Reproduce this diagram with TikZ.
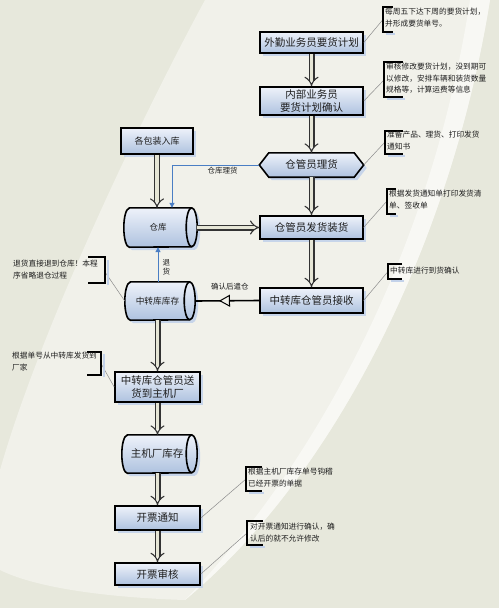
\documentclass[tikz,border=0pt]{standalone}
\usepackage{fontspec}
\newfontfamily\cjk{Noto Sans CJK SC}
\usetikzlibrary{shadows,arrows.meta,decorations.markings,calc}
\definecolor{bgbase}{HTML}{E7E8DC}
\definecolor{bglight}{HTML}{F1F1EA}
\definecolor{bgwhite}{HTML}{F8F8F4}
\definecolor{boxtop}{HTML}{EEF2FA}
\definecolor{boxbot}{HTML}{AEC2DF}
\definecolor{shadowc}{HTML}{C3D2EA}
\definecolor{flowblue}{HTML}{4A7EC4}
\definecolor{arrowfill}{HTML}{E6E6D6}
\definecolor{calloutline}{HTML}{8C8C8C}
\definecolor{txt}{HTML}{1E1E1E}
\pgfdeclarelayer{bgl}
\pgfdeclarelayer{shapes}
\pgfsetlayers{bgl,shapes,main}
\newcommand\drawcyl[2]{%
  \path[shapestyle] ([xshift=5.5pt]#1.north west) -- ([xshift=-5.5pt]#1.north east)
    arc[start angle=90,end angle=-90,x radius=5.5pt,y radius=#2]
    -- ([xshift=5.5pt]#1.south west)
    arc[start angle=270,end angle=90,x radius=5.5pt,y radius=#2] -- cycle;
  \draw[line width=1.6pt] ([xshift=-5.5pt]#1.north east)
    arc[start angle=90,end angle=270,x radius=5.5pt,y radius=#2];}
\begin{document}
\begin{tikzpicture}[x=1pt,y=1pt,
  boxshadow/.style={drop shadow={shadow xshift=3pt,shadow yshift=-3pt,fill=shadowc,opacity=0.9}},
  box/.style={rectangle,draw=black,line width=1.6pt,top color=boxtop,bottom color=boxbot,
    boxshadow,text=txt,font=\cjk\fontsize{10.5}{12.5}\selectfont,align=center,inner sep=0pt},
  shapestyle/.style={draw=black,line width=1.6pt,top color=boxtop,bottom color=boxbot,boxshadow},
  plain/.style={rectangle,inner sep=0pt,text=txt,font=\cjk\fontsize{10.5}{12.5}\selectfont,align=center},
  dbl/.style={draw=black!80,line width=1.1pt,double=arrowfill,double distance=3.8pt,-{Implies}},
  bluearr/.style={draw=flowblue,line width=1pt,-{Triangle[length=5pt,width=5pt]}},
  lab/.style={inner sep=0pt,text=txt,font=\cjk\fontsize{7.5}{9.5}\selectfont,align=center},
  note/.style={inner sep=0pt,anchor=north west,text=txt,font=\cjk\fontsize{7.7}{11.5}\selectfont,align=left},
  brk/.style={draw=black,line width=1.8pt},
  brkshadow/.style={draw=shadowc,line width=1.5pt},
  callline/.style={draw=calloutline,line width=0.5pt}]
\useasboundingbox (0,0) rectangle (499,-608);
% background
\begin{pgfonlayer}{bgl}
\fill[bgbase] (0,0) rectangle (499,-608);
\fill[bglight] (205,0) -- (490,0) .. controls (450,-250) and (330,-480) .. (185,-600)
  .. controls (120,-598) and (40,-590) .. (0,-570) -- (0,-470)
  .. controls (40,-330) and (140,-120) .. (205,0) -- cycle;
\fill[bgwhite] (490,0) .. controls (450,-250) and (330,-480) .. (185,-600)
  .. controls (310,-470) and (430,-260) .. (470,0) -- cycle;
\end{pgfonlayer}
% right column
\node[box,minimum width=103pt,minimum height=21pt] (wq) at (311.5,-42.5) {外勤业务员要货计划};
\node[box,minimum width=103pt,minimum height=28pt] (nb) at (311.5,-101) {内部业务员\\要货计划确认};
\node[plain,minimum width=104pt,minimum height=24pt] (lh) at (311.5,-165) {仓管员理货};
\node[box,minimum width=102.5pt,minimum height=23pt] (fh) at (311.5,-227.5) {仓管员发货装货};
\node[box,minimum width=102.5pt,minimum height=25pt] (js) at (311.5,-300.5) {中转库仓管员接收};
% left column
\node[box,minimum width=72pt,minimum height=26pt,font=\cjk\fontsize{9}{11}\selectfont] (bz) at (157,-141) {各包装入库};
\node[plain,minimum width=73pt,minimum height=39pt,font=\cjk\fontsize{8.5}{10}\selectfont] (ck) at (160.5,-227.5) {仓库\hspace*{5pt}};
\node[plain,minimum width=70pt,minimum height=38pt,font=\cjk\fontsize{8.7}{10}\selectfont] (zk) at (160,-301) {中转库库存\hspace*{5pt}};
\node[box,minimum width=85pt,minimum height=30pt] (sh) at (157.5,-387) {中转库仓管员送\\货到主机厂};
\node[plain,minimum width=75pt,minimum height=38pt] (zj) at (159.5,-454) {主机厂库存\hspace*{5pt}};
\node[box,minimum width=85pt,minimum height=24pt] (kp) at (157.5,-518) {开票通知};
\node[box,minimum width=85pt,minimum height=22pt] (sk) at (157.5,-574) {开票审核};
% drawn shapes behind text
\begin{pgfonlayer}{shapes}
\path[shapestyle] (lh.west) -- ([xshift=9.5pt]lh.north west) -- ([xshift=-9.5pt]lh.north east)
  -- (lh.east) -- ([xshift=-9.5pt]lh.south east) -- ([xshift=9.5pt]lh.south west) -- cycle;
\drawcyl{ck}{19.5pt}
\drawcyl{zk}{19pt}
\drawcyl{zj}{19pt}
\end{pgfonlayer}
% double arrows
\draw[dbl] (wq.south) -- (nb.north);
\draw[dbl] (nb.south) -- (lh.north);
\draw[dbl] (lh.south) -- (fh.north);
\draw[dbl] (fh.south) -- (js.north);
\draw[dbl] (bz.south) -- (bz.south |- ck.north);
\draw[dbl] (ck.east) -- (fh.west);
\draw[dbl] (zk.south -| sh.north) -- (sh.north);
\draw[dbl] (sh.south) -- (sh.south |- zj.north);
\draw[dbl] (zj.south -| kp.north) -- (kp.north);
\draw[dbl] (kp.south) -- (sk.north);
% blue connectors
\draw[bluearr] (lh.west) -| ([xshift=11.5pt]ck.north)
  node[lab,pos=0.21,below=1.5pt] {仓库理货};
\draw[bluearr] ([xshift=-2pt]zk.north) -- ([xshift=-2pt]zk.north |- ck.south)
  node[lab,midway,right=4pt,yshift=-3pt] {退\\货};
% confirm connector
\draw[draw=black,line width=1.6pt,postaction={decorate},
  decoration={markings,mark=at position 0.63 with {\arrow[line width=1pt]{Triangle[open,length=11pt,width=12pt,fill=bglight]}}}]
  (js.west) -- (zk.east) node[lab,pos=0.46,above=10pt] {确认后遣仓};
% callouts
\coordinate (ca) at (383,-19.5);
\coordinate (cb) at (384,-80);
\coordinate (cc) at (385,-142);
\coordinate (cd) at (387,-201);
\coordinate (ce) at (388,-271.5);
\coordinate (cf) at (105,-272);
\coordinate (cg) at (101,-363.5);
\coordinate (chh) at (246,-479);
\coordinate (ci) at (247,-533);
\draw[callline] (wq.east) -- (ca);
\draw[callline] (nb.east) -- (cb);
\draw[callline] (lh.east) -- (cc);
\draw[callline] (fh.east) -- (cd);
\draw[callline] (js.east) -- (ce);
\draw[callline] (zk.west) -- (cf);
\draw[callline] (sh.west) -- (cg);
\draw[callline] (kp.east) -- (chh);
\draw[callline] (sk.east) -- (ci);
% bracket shadows
\draw[brkshadow] (395,-34) -- (386,-34);
\draw[brkshadow] (405,-99) -- (387,-99);
\draw[brkshadow] (405,-156) -- (388,-156);
\draw[brkshadow] (398,-216) -- (390,-216);
\draw[brkshadow] (404,-281) -- (391,-281);
\draw[brkshadow] (108,-285) -- (108,-260);
\draw[brkshadow] (104,-377) -- (104,-354);
\draw[brkshadow] (264,-493) -- (249,-493);
\draw[brkshadow] (265,-547) -- (250,-547);
% brackets
\draw[brk] (393,-7) -- (383,-7) -- (383,-32) -- (393,-32);
\draw[brk] (403,-62) -- (384,-62) -- (384,-97) -- (403,-97);
\draw[brk] (403,-131) -- (385,-131) -- (385,-154) -- (403,-154);
\draw[brk] (396,-189) -- (387,-189) -- (387,-214) -- (396,-214);
\draw[brk] (402,-264) -- (388,-264) -- (388,-279) -- (402,-279);
\draw[brk] (88,-257) -- (105,-257) -- (105,-283) -- (88,-283);
\draw[brk] (87,-352) -- (101,-352) -- (101,-375) -- (87,-375);
\draw[brk] (262,-467) -- (246,-467) -- (246,-491) -- (262,-491);
\draw[brk] (263,-521) -- (247,-521) -- (247,-545) -- (263,-545);
% callout texts
\node[note] (ta) at (385,-8) {每周五下达下周的要货计划，\\并形成要货单号。};
\node[note] (tb) at (386,-63) {审核修改要货计划，没到期可\\以修改，安排车辆和装货数量\\规格等，计算运费等信息};
\node[note] (tc) at (387,-131) {准备产品、理货、打印发货\\通知书};
\node[note] (td) at (389,-190) {根据发货通知单打印发货清\\单、签收单};
\node[note] (te) at (390,-267) {中转库进行到货确认};
\node[note] (tf) at (13,-260) {退货直接退到仓库！本程\\序省略退仓过程};
\node[note] (tg) at (12,-352) {根据单号从中转库发货到\\厂家};
\node[note] (th) at (248,-468) {根据主机厂库存单号钩稽\\已经开票的单据};
\node[note] (ti) at (250,-523) {对开票通知进行确认，确\\认后的就不允许修改};
\end{tikzpicture}
\end{document}
